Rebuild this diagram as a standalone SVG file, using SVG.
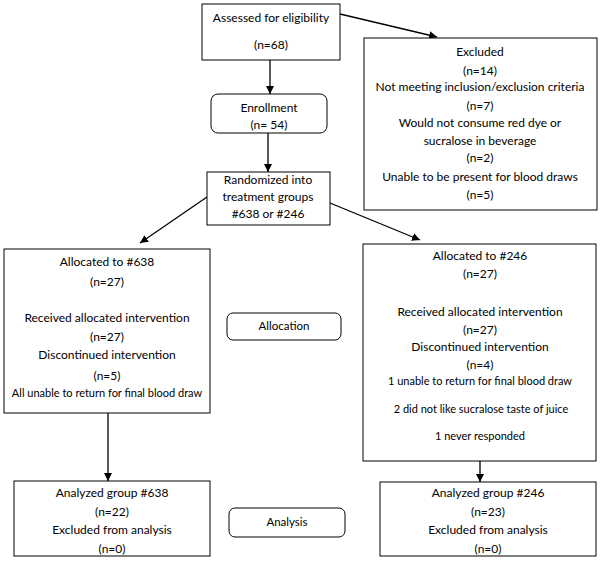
<svg xmlns="http://www.w3.org/2000/svg" width="600" height="561" viewBox="0 0 600 561">
<style>
.box{fill:#fff;stroke:#000;stroke-width:1}
.t{font-family:Lato,"Liberation Sans",sans-serif;font-size:11.5px;fill:#000;text-anchor:middle}
.big{font-size:12px}
.sm{font-size:11px}
.c{stroke:#000;stroke-width:1.3;fill:none;marker-end:url(#ah)}
</style>
<defs>
<marker id="ah" viewBox="0 0 10 10" refX="10" refY="5" markerWidth="8" markerHeight="8" markerUnits="userSpaceOnUse" orient="auto">
<path d="M0,0 L10,5 L0,10 z" fill="#000"/>
</marker>
</defs>
<rect width="600" height="561" fill="#fff"/>
<g id="connectors">
<line class="c" x1="270" y1="60" x2="270" y2="94"/>
<line class="c" x1="340" y1="14" x2="437" y2="37"/>
<line class="c" x1="268" y1="133" x2="268" y2="172"/>
<line class="c" x1="207" y1="197" x2="140" y2="243"/>
<line class="c" x1="330" y1="203" x2="420" y2="240"/>
<line class="c" x1="108" y1="413" x2="108" y2="481"/>
<line class="c" x1="480" y1="461" x2="480" y2="482"/>
</g>
<g id="assessed">
<rect class="box" x="202" y="4" width="138" height="56"/>
<text class="t big" x="271" y="22">Assessed for eligibility</text>
<text class="t big" x="271" y="49">(n=68)</text>
</g>
<g id="excluded">
<rect class="box" x="364" y="38" width="233" height="172"/>
<text class="t big" x="480" y="56">Excluded</text>
<text class="t big" x="480" y="75">(n=14)</text>
<text class="t big" x="480" y="91">Not meeting inclusion/exclusion criteria</text>
<text class="t big" x="480" y="110">(n=7)</text>
<text class="t big" x="480" y="127">Would not consume red dye or</text>
<text class="t big" x="480" y="145">sucralose in beverage</text>
<text class="t big" x="480" y="162">(n=2)</text>
<text class="t big" x="480" y="181">Unable to be present for blood draws</text>
<text class="t big" x="480" y="199">(n=5)</text>
</g>
<g id="enrollment">
<rect class="box" x="211" y="94" width="116" height="39" rx="7"/>
<text class="t big" x="269" y="112">Enrollment</text>
<text class="t big" x="269" y="129">(n= 54)</text>
</g>
<g id="randomized">
<rect class="box" x="207" y="172" width="123" height="53"/>
<text class="t big" x="268" y="184">Randomized into</text>
<text class="t big" x="268" y="201">treatment groups</text>
<text class="t big" x="268" y="218">#638 or #246</text>
</g>
<g id="alloc638">
<rect class="box" x="4" y="249" width="206" height="164"/>
<text class="t big" x="107" y="266">Allocated to #638</text>
<text class="t big" x="107" y="286">(n=27)</text>
<text class="t big" x="107" y="322">Received allocated intervention</text>
<text class="t big" x="107" y="341">(n=27)</text>
<text class="t big" x="107" y="359">Discontinued intervention</text>
<text class="t big" x="107" y="380">(n=5)</text>
<text class="t sm" x="107" y="397">All unable to return for final blood draw</text>
</g>
<g id="allocation">
<rect class="box" x="227" y="313" width="114" height="27" rx="6"/>
<text class="t" x="284" y="330">Allocation</text>
</g>
<g id="alloc246">
<rect class="box" x="363" y="244" width="233" height="217"/>
<text class="t big" x="480" y="260">Allocated to #246</text>
<text class="t big" x="480" y="278">(n=27)</text>
<text class="t big" x="480" y="316">Received allocated intervention</text>
<text class="t big" x="480" y="334">(n=27)</text>
<text class="t big" x="480" y="351">Discontinued intervention</text>
<text class="t big" x="480" y="369">(n=4)</text>
<text class="t sm" x="480" y="385">1 unable to return for final blood draw</text>
<text class="t sm" x="481" y="413">2 did not like sucralose taste of juice</text>
<text class="t sm" x="480" y="440">1 never responded</text>
</g>
<g id="analyzed638">
<rect class="box" x="14" y="481" width="196" height="75"/>
<text class="t big" x="112" y="497">Analyzed group #638</text>
<text class="t big" x="112" y="516">(n=22)</text>
<text class="t big" x="112" y="534">Excluded from analysis</text>
<text class="t big" x="112" y="553">(n=0)</text>
</g>
<g id="analysis">
<rect class="box" x="229" y="508" width="116" height="29" rx="6"/>
<text class="t" x="287" y="526">Analysis</text>
</g>
<g id="analyzed246">
<rect class="box" x="380" y="482" width="216" height="74"/>
<text class="t big" x="488" y="497">Analyzed group #246</text>
<text class="t big" x="488" y="516">(n=23)</text>
<text class="t big" x="488" y="534">Excluded from analysis</text>
<text class="t big" x="488" y="553">(n=0)</text>
</g>
</svg>
